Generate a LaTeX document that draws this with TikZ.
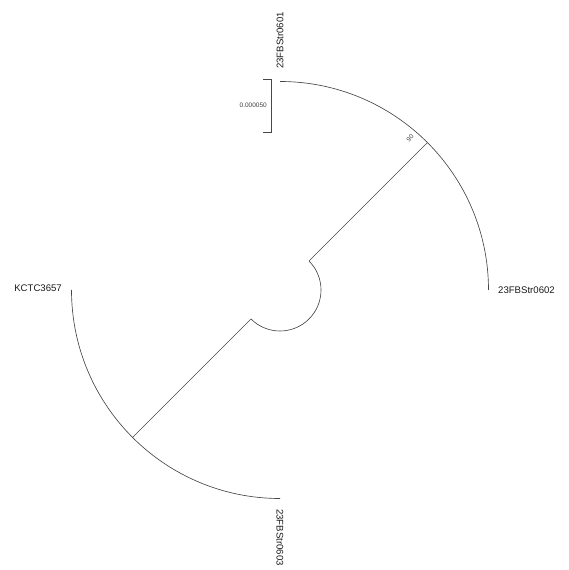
\documentclass[tikz,border=0pt]{standalone}
\usepackage{fontspec}
\setmainfont{Liberation Sans}
\usetikzlibrary{calc}
\begin{document}
\begin{tikzpicture}[x=1pt,y=1pt,
  branch/.style={draw=black!72, line width=0.65pt},
  leaflabel/.style={font=\fontsize{9.6}{11}\selectfont, inner sep=0pt, text=black!90},
  smalllabel/.style={font=\fontsize{6.5}{7}\selectfont, inner sep=0pt, text=black!75}]
\useasboundingbox (0,0) rectangle (568,570);
\def\R{208.5}
\coordinate (C) at (280,280);
% inner arc and radial branches
\coordinate (i1) at ($(C)+(45:41)$);
\coordinate (i2) at ($(C)+(-135:41)$);
\coordinate (n1) at ($(C)+(45:\R)$);
\coordinate (n2) at ($(C)+(-135:\R)$);
\draw[branch] (i1) arc[start angle=45, end angle=-135, radius=41];
\draw[branch] (i1) -- (n1);
\draw[branch] (i2) -- (n2);
% outer arcs
\coordinate (t1) at ($(C)+(90:\R)$);
\coordinate (t2) at ($(C)+(0:\R)$);
\coordinate (t3) at ($(C)+(180:\R)$);
\coordinate (t4) at ($(C)+(270:\R)$);
\draw[branch] (t1) arc[start angle=90, end angle=0, radius=\R];
\draw[branch] (t3) arc[start angle=180, end angle=270, radius=\R];
% leaf labels
\node[leaflabel, rotate=90, anchor=west] (l1) at ($(C)+(90:221)$) {23FBStr0601};
\node[leaflabel, anchor=west] (l2) at ($(C)+(0:218)$) {23FBStr0602};
\node[leaflabel, rotate=-90, anchor=west] (l4) at ($(C)+(270:219)$) {23FBStr0603};
\node[leaflabel, anchor=east] (l3) at (62,282) {KCTC3657};
% bootstrap
\node[smalllabel, rotate=45] (b1) at (410,432) {90};
% scale bar
\coordinate (s1) at (271,491);
\coordinate (s2) at (271,438);
\coordinate (s1a) at (263,491);
\coordinate (s2a) at (263,438);
\draw[branch] (s1a) -- (s1) -- (s2) -- (s2a);
\node[smalllabel, anchor=east] (sl) at (267,465) {0.000050};
\end{tikzpicture}
\end{document}
